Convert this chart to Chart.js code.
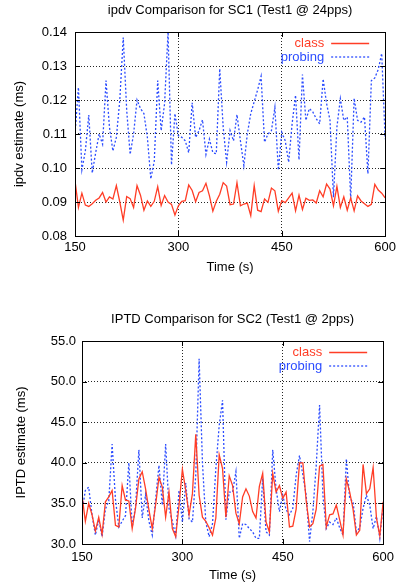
<!DOCTYPE html>
<html>
<head>
<meta charset="utf-8">
<script src="https://cdn.jsdelivr.net/npm/chart.js@4"></script>
<style>
  body { margin: 0; background: #fff; }
  canvas { position: absolute; left: 0; }
  #top { top: 0; }
  #bottom { top: 290px; }
</style>
</head>
<body>
<canvas id="top" width="400" height="290"></canvas>
<canvas id="bottom" width="400" height="293"></canvas>
<script>
// time axis (s), one sample every 5 s
const times = [
  150, 155, 160, 165, 170, 175, 180, 185, 190, 195, 200, 205, 210, 215, 220, 225,
  230, 235, 240, 245, 250, 255, 260, 265, 270, 275, 280, 285, 290, 295, 300, 305,
  310, 315, 320, 325, 330, 335, 340, 345, 350, 355, 360, 365, 370, 375, 380, 385,
  390, 395, 400, 405, 410, 415, 420, 425, 430, 435, 440, 445, 450, 455, 460, 465,
  470, 475, 480, 485, 490, 495, 500, 505, 510, 515, 520, 525, 530, 535, 540, 545,
  550, 555, 560, 565, 570, 575, 580, 585, 590, 595, 600
];

// SC1 ipdv (ms)
const ipdvClass = [
  0.0962, 0.0884, 0.0926, 0.0891, 0.0887, 0.0895, 0.0905, 0.0912, 0.0928, 0.0900, 0.0915,
  0.0909, 0.0948, 0.0900, 0.0847, 0.0916, 0.0910, 0.0884, 0.0948, 0.0920, 0.0876, 0.0903,
  0.0887, 0.0902, 0.0945, 0.0890, 0.0919, 0.0900, 0.0893, 0.0862, 0.0889,
  0.0902, 0.0904, 0.0950, 0.0934, 0.0901, 0.0928, 0.0933, 0.0955, 0.0919, 0.0873, 0.0902,
  0.0923, 0.0957, 0.0947, 0.0892, 0.0894, 0.0957, 0.0889, 0.0894, 0.0897, 0.0860, 0.0948,
  0.0876, 0.0872, 0.0909, 0.0899, 0.0941, 0.0933, 0.0873, 0.0904,
  0.0898, 0.0912, 0.0926, 0.0874, 0.0920, 0.0878, 0.0911, 0.0905, 0.0906, 0.0897, 0.0933,
  0.0915, 0.0953, 0.0938, 0.0889, 0.0946, 0.0884, 0.0915, 0.0876, 0.0912, 0.0874, 0.0918,
  0.0903, 0.0895, 0.0887, 0.0893, 0.0952, 0.0935, 0.0926, 0.0912
];
const ipdvProbing = [
  0.1100, 0.1237, 0.0995, 0.1050, 0.1156, 0.0985, 0.1045, 0.1100, 0.1070, 0.1257, 0.1120,
  0.1050, 0.1090, 0.1200, 0.1384, 0.1170, 0.1040, 0.1100, 0.1200, 0.1175, 0.1160, 0.1090,
  0.0968, 0.1020, 0.1257, 0.1110, 0.1190, 0.1400, 0.1009, 0.1160, 0.1095,
  0.1090, 0.1080, 0.1045, 0.1192, 0.1090, 0.1110, 0.1142, 0.1040, 0.1085, 0.1045, 0.1042,
  0.1292, 0.1120, 0.1017, 0.1110, 0.1080, 0.1157, 0.1080, 0.1007, 0.1100, 0.1160, 0.1195,
  0.1230, 0.1270, 0.1076, 0.1100, 0.1110, 0.1178, 0.0994, 0.1105,
  0.1080, 0.1017, 0.1130, 0.1214, 0.1024, 0.1275, 0.1140, 0.1175, 0.1165, 0.1145, 0.1130,
  0.1262, 0.1190, 0.1140, 0.0914, 0.1120, 0.1204, 0.1140, 0.1150, 0.0909, 0.1205, 0.1140,
  0.1135, 0.1150, 0.0983, 0.1257, 0.1265, 0.1290, 0.1337, 0.1085
];

// SC2 IPTD (ms)
const iptdClass = [
  36.0, 32.8, 35.0, 33.6, 31.6, 33.3, 31.2, 35.2, 35.8, 36.6, 32.3, 32.1, 37.2, 35.4, 35.3,
  31.9, 34.4, 38.0, 38.9, 36.8, 34.2, 31.9, 34.8, 38.2, 37.0, 33.3, 36.4, 31.9, 30.9, 34.8, 39.2,
  36.6, 33.6, 36.2, 43.5, 36.0, 33.3, 32.8, 32.0, 31.1, 33.2, 41.0, 39.3, 33.3, 38.4, 37.2,
  33.8, 32.5, 35.8, 36.8, 35.9, 34.0, 33.2, 37.1, 38.7, 32.7, 31.5, 38.7, 36.4, 37.2, 35.6,
  36.4, 32.1, 32.2, 34.3, 40.0, 40.0, 35.3, 32.1, 32.5, 34.3, 39.6, 39.8, 32.1, 33.6, 33.7,
  34.8, 33.0, 31.1, 38.0, 36.4, 34.3, 31.1, 31.7, 39.8, 36.2, 36.8, 39.4, 33.2, 31.0, 35.2
];
const iptdProbing = [
  34.0, 36.6, 37.0, 33.6, 31.1, 33.0, 30.9, 34.3, 35.3, 42.3, 35.5, 32.1, 32.8, 33.5, 40.0,
  32.1, 34.6, 41.6, 33.2, 36.1, 32.8, 31.1, 35.5, 39.7, 34.8, 42.3, 34.4, 32.8, 31.0, 36.6, 32.7,
  37.5, 33.1, 32.7, 38.5, 52.8, 40.0, 32.7, 30.9, 32.5, 39.3, 44.6, 47.7, 33.0, 36.4, 36.4,
  38.9, 30.7, 32.5, 32.4, 31.9, 31.5, 30.7, 30.7, 38.1, 31.5, 31.1, 41.6, 36.8, 34.0, 36.0,
  34.2, 33.6, 34.4, 38.5, 40.9, 38.5, 36.0, 30.3, 34.0, 39.7, 47.1, 36.0, 31.9, 32.7, 32.4,
  33.2, 32.0, 31.1, 40.5, 35.6, 35.2, 31.5, 32.0, 34.4, 36.0, 34.8, 31.9, 33.4, 30.7, 34.8
];

const FONT = "'Liberation Sans', Arial, Helvetica, sans-serif";
const RED = '#ff3d26';
const BLUE = '#2b4cff';

// gnuplot-like frame: solid box, inward ticks, key in the top right corner
const framePlugin = {
  id: 'frame',
  afterDatasetsDraw(chart) {
    const ctx = chart.ctx;
    const a = chart.chartArea;
    const x = chart.scales.x, y = chart.scales.y;
    ctx.save();
    ctx.setLineDash([]);
    ctx.strokeStyle = '#000';
    ctx.lineWidth = 1;
    ctx.beginPath();
    y.ticks.forEach(t => {
      const py = Math.round(y.getPixelForValue(t.value)) + 0.5;
      ctx.moveTo(a.left, py); ctx.lineTo(a.left + 5, py);
      ctx.moveTo(a.right, py); ctx.lineTo(a.right - 5, py);
    });
    x.ticks.forEach(t => {
      const px = Math.round(x.getPixelForValue(t.value)) + 0.5;
      ctx.moveTo(px, a.bottom); ctx.lineTo(px, a.bottom - 5);
      ctx.moveTo(px, a.top); ctx.lineTo(px, a.top + 5);
    });
    ctx.stroke();
    ctx.strokeRect(Math.round(a.left) + 0.5, Math.round(a.top) + 0.5,
      Math.round(a.right - a.left), Math.round(a.bottom - a.top));

    ctx.font = '13px ' + FONT;
    ctx.textAlign = 'right';
    ctx.textBaseline = 'middle';
    chart.data.datasets.forEach((ds, i) => {
      const ly = a.top + 11.5 + i * 13.5;
      ctx.fillStyle = ds.borderColor;
      ctx.fillText(ds.label, a.right - 61, ly);
      ctx.strokeStyle = ds.borderColor;
      ctx.lineWidth = 1.3;
      ctx.setLineDash(ds.borderDash || []);
      ctx.beginPath();
      ctx.moveTo(a.right - 54, ly);
      ctx.lineTo(a.right - 16, ly);
      ctx.stroke();
    });
    ctx.restore();
  }
};

function makeChart(id, cfg) {
  return new Chart(document.getElementById(id), {
    type: 'line',
    data: {
      datasets: [
        {
          label: 'class',
          data: times.map((t, i) => ({ x: t, y: cfg.cls[i] })),
          borderColor: RED, borderWidth: 1.3, pointRadius: 0, tension: 0, fill: false
        },
        {
          label: 'probing',
          data: times.map((t, i) => ({ x: t, y: cfg.prb[i] })),
          borderColor: BLUE, borderWidth: 1.3, borderDash: [2, 2],
          pointRadius: 0, tension: 0, fill: false
        }
      ]
    },
    options: {
      responsive: false,
      animation: false,
      layout: { padding: { left: 0, right: 11, top: 0, bottom: cfg.padBottom } },
      plugins: {
        legend: { display: false },
        tooltip: { enabled: false },
        title: {
          display: true,
          fullSize: false,   // centre over the plot area, like gnuplot
          text: cfg.title,
          color: '#000',
          font: { family: FONT, size: 13, weight: 'normal' },
          padding: { top: cfg.titleTop, bottom: cfg.titleBottom }
        }
      },
      scales: {
        x: {
          type: 'linear',
          min: 150, max: 600,
          afterFit: s => { s.height = 39; },
          ticks: {
            stepSize: 150, autoSkip: false, maxRotation: 0,
            color: '#000', padding: cfg.xTickPad,
            font: { family: FONT, size: 13 }
          },
          grid: { color: 'rgba(0,0,0,0.85)', lineWidth: 1, drawTicks: false },
          border: { display: false, dash: [1, 2] },
          title: {
            display: true, text: 'Time (s)', color: '#000',
            font: { family: FONT, size: 13 },
            padding: { top: 4, bottom: 0 }
          }
        },
        y: {
          min: cfg.yMin, max: cfg.yMax,
          afterFit: s => { s.width = cfg.left; },
          ticks: {
            stepSize: cfg.yStep, color: '#000', padding: cfg.yTickPad,
            font: { family: FONT, size: 13 },
            callback: v => Number(v).toFixed(cfg.digits)
          },
          grid: { color: 'rgba(0,0,0,0.85)', lineWidth: 1, drawTicks: false },
          border: { display: false, dash: [1, 2] },
          title: {
            display: true, text: cfg.yTitle, color: '#000',
            font: { family: FONT, size: 13 },
            padding: { top: cfg.yTitlePad, bottom: 0 }
          }
        }
      }
    },
    plugins: [framePlugin]
  });
}

makeChart('top', {
  title: 'ipdv Comparison for SC1 (Test1 @ 24pps)',
  yTitle: 'ipdv estimate (ms)',
  cls: ipdvClass, prb: ipdvProbing,
  yMin: 0.08, yMax: 0.14, yStep: 0.01, digits: 2,
  left: 75, yTickPad: 8, yTitlePad: 12, xTickPad: 4,
  titleTop: 3, titleBottom: 13.4, padBottom: 15
});

makeChart('bottom', {
  title: 'IPTD Comparison for SC2 (Test1 @ 2pps)',
  yTitle: 'IPTD estimate (ms)',
  cls: iptdClass, prb: iptdProbing,
  yMin: 30, yMax: 55, yStep: 5, digits: 1,
  left: 82, yTickPad: 6, yTitlePad: 14, xTickPad: 6,
  titleTop: 22, titleBottom: 13.4, padBottom: 0
});
</script>
</body>
</html>
